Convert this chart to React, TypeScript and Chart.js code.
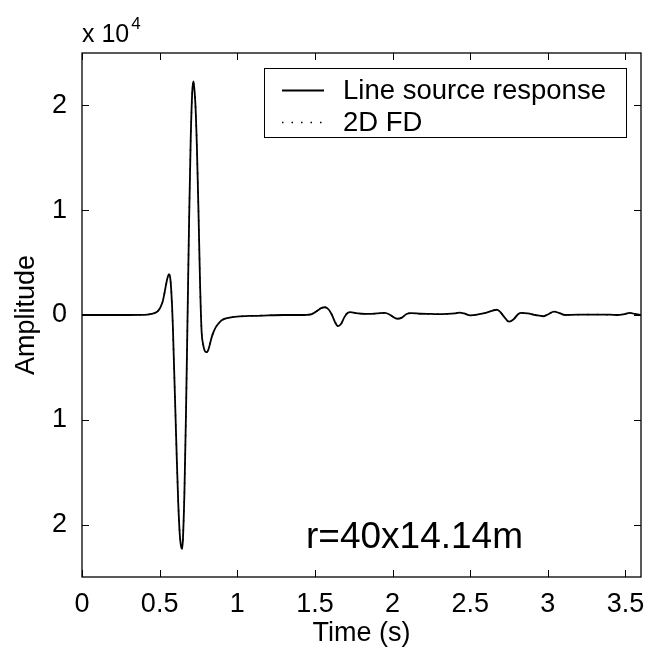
import React, { useEffect, useRef } from "react";
import { Chart, registerables } from "chart.js";

Chart.register(...registerables);

// ---- Data ----
const times = [
  0, 0.1, 0.2, 0.3, 0.38, 0.42, 0.45, 0.47, 0.49, 0.5, 0.51, 0.52, 0.53, 0.54, 0.55, 0.56, 0.565, 0.57, 0.575, 0.58,
  0.585, 0.59, 0.6, 0.61, 0.62, 0.63, 0.64, 0.645, 0.65, 0.66, 0.67, 0.68, 0.69, 0.7, 0.71, 0.717, 0.72, 0.73, 0.74,
  0.75, 0.76, 0.77, 0.78, 0.79, 0.8, 0.81, 0.82, 0.83, 0.84, 0.86, 0.88, 0.9, 0.95, 1.0, 1.1, 1.2, 1.3, 1.4,
  1.45, 1.48, 1.5, 1.52, 1.54, 1.565, 1.59, 1.61, 1.63, 1.65, 1.67, 1.69, 1.71, 1.73, 1.76, 1.8, 1.85, 1.9, 1.95,
  1.98, 2.0, 2.03, 2.06, 2.09, 2.12, 2.18, 2.25, 2.3, 2.35, 2.4, 2.43, 2.46, 2.5, 2.55, 2.6, 2.65, 2.67, 2.69, 2.72,
  2.75, 2.78, 2.81, 2.83, 2.87, 2.92, 2.97, 3.0, 3.04, 3.08, 3.11, 3.15, 3.2, 3.3, 3.4, 3.45, 3.48, 3.53, 3.56, 3.6,
];

const lineSourceAmp = [
  0, 0, 0, 0, 10, 40, 100, 200, 400, 600, 900, 1300, 2000, 2800, 3500, 3880, 3800, 3300, 2300, 900,
  -1000, -3500, -8500, -13500, -18000, -21000, -22200, -22300, -21400, -16700, -9200, 0, 9200, 16700, 21300, 22300, 22100, 20200, 16000,
  10000, 3200, -1500, -2800, -3400, -3550, -3450, -3000, -2400, -1900, -1200, -800, -500, -250, -150, -80, -40, 0, 0,
  20, 80, 250, 450, 650, 740, 500, 0, -700, -1070, -800, -200, 200, 270, 180, 120, 100, 150, 200,
  50, -150, -360, -250, 100, 180, 120, 100, 80, 100, 150, 220, 150, -30, 50, 200, 450, 500, 350, -200,
  -640, -400, 100, 200, 150, 0, -120, 50, 320, 150, 0, 20, 30, 40, 30, 0, 50, 200, 100, 0,
];

const fdAmp = [
  0, 0, 0, 0, 10, 40, 100, 200, 400, 600, 900, 1300, 2000, 2800, 3500, 3880, 3800, 3300, 2300, 900,
  -1000, -3500, -8500, -13500, -18000, -21000, -22200, -22300, -21400, -16700, -9200, 0, 9200, 16700, 21300, 22300, 22100, 20200, 16000,
  10000, 3200, -1500, -2800, -3400, -3550, -3450, -3000, -2400, -1900, -1200, -800, -500, -250, -150, -80, -40, 0, 0,
  20, 80, 250, 450, 650, 740, 500, 0, -700, -1070, -800, -200, 200, 270, 180, 120, 100, 150, 200,
  50, -150, -360, -250, 100, 180, 120, 100, 80, 100, 150, 220, 150, -30, 50, 200, 450, 500, 350, -200,
  -640, -400, 100, 200, 150, 0, -120, 50, 320, 150, 0, 20, 30, 40, 30, 0, 50, 200, 100, 0,
];

const xTicks = [0, 0.5, 1, 1.5, 2, 2.5, 3, 3.5];
const xTickLabels = ["0", "0.5", "1", "1.5", "2", "2.5", "3", "3.5"];
const yTicks = [-20000, -10000, 0, 10000, 20000];
const yTickLabels = ["2", "1", "0", "1", "2"];

const seriesLabels = ["Line source response", "2D FD"];
const annotationText = "r=40x14.14m";

const FONT = "'Liberation Sans', Arial, Helvetica, sans-serif";

const boxPlugin = {
  id: "matlabBox",
  afterDraw(chart: any) {
    const { ctx, chartArea: a, scales } = chart;
    const xs = scales.x;
    const ys = scales.y;
    ctx.save();
    ctx.strokeStyle = "#000";
    ctx.lineWidth = 1.3;
    ctx.strokeRect(a.left, a.top, a.right - a.left, a.bottom - a.top);
    const tl = 7;
    ctx.beginPath();
    xTicks.forEach((v) => {
      const px = Math.round(xs.getPixelForValue(v)) + 0.5;
      ctx.moveTo(px, a.bottom);
      ctx.lineTo(px, a.bottom - tl);
      ctx.moveTo(px, a.top);
      ctx.lineTo(px, a.top + tl);
    });
    yTicks.forEach((v) => {
      const py = Math.round(ys.getPixelForValue(v)) + 0.5;
      ctx.moveTo(a.left, py);
      ctx.lineTo(a.left + tl, py);
      ctx.moveTo(a.right, py);
      ctx.lineTo(a.right - tl, py);
    });
    ctx.lineWidth = 1;
    ctx.stroke();

    // exponent label
    ctx.fillStyle = "#000";
    ctx.textBaseline = "alphabetic";
    ctx.textAlign = "left";
    ctx.font = `25px ${FONT}`;
    ctx.fillText("x 10", a.left, 42);
    const w = ctx.measureText("x 10").width;
    ctx.font = `17px ${FONT}`;
    ctx.fillText("4", a.left + w + 2, 29);

    // annotation
    ctx.font = `37px ${FONT}`;
    ctx.textAlign = "right";
    ctx.fillText(annotationText, 523, 548);

    // legend
    const lx = 264.5, ly = 68.5, lw = 362, lh = 69;
    ctx.fillStyle = "#fff";
    ctx.fillRect(lx, ly, lw, lh);
    ctx.strokeStyle = "#000";
    ctx.lineWidth = 1;
    ctx.strokeRect(lx, ly, lw, lh);
    const rows = [90, 122];
    chart.data.datasets.forEach((ds: any, i: number) => {
      const y = rows[i];
      ctx.save();
      ctx.strokeStyle = ds.borderColor;
      ctx.lineWidth = ds.borderWidth;
      ctx.setLineDash(ds.borderDash || []);
      ctx.beginPath();
      ctx.moveTo(282, y + 0.5);
      ctx.lineTo(324, y + 0.5);
      ctx.stroke();
      ctx.restore();
      ctx.fillStyle = "#000";
      ctx.font = `27.5px ${FONT}`;
      ctx.textBaseline = "middle";
      ctx.textAlign = "left";
      ctx.fillText(ds.label, 343, y + 1);
    });
    ctx.restore();
  },
};

export default function App() {
  const ref = useRef<HTMLCanvasElement | null>(null);
  useEffect(() => {
    if (!ref.current) return;
    const chart = new Chart(ref.current, {
      type: "line",
      data: {
        datasets: [
          {
            label: seriesLabels[0],
            data: times.map((t, i) => ({ x: t, y: lineSourceAmp[i] })),
            borderColor: "#000",
            borderWidth: 1.8,
            pointRadius: 0,
            cubicInterpolationMode: "monotone",
            fill: false,
          },
          {
            label: seriesLabels[1],
            data: times.map((t, i) => ({ x: t, y: fdAmp[i] })),
            borderColor: "#000",
            borderWidth: 1.5,
            borderDash: [1.5, 8],
            pointRadius: 0,
            cubicInterpolationMode: "monotone",
            fill: false,
          },
        ],
      },
      options: {
        responsive: false,
        animation: false,
        devicePixelRatio: 1,
        layout: { padding: { top: 53, right: 4, left: 0, bottom: 0 } },
        plugins: { legend: { display: false }, tooltip: { enabled: false } },
        scales: {
          x: {
            type: "linear",
            min: 0,
            max: 3.6,
            grid: { display: false },
            border: { display: false },
            afterBuildTicks: (s: any) => {
              s.ticks = xTicks.map((v) => ({ value: v }));
            },
            afterFit: (s: any) => {
              s.height = 71;
              s.paddingLeft = 0;
              s.paddingRight = 0;
            },
            ticks: {
              color: "#000",
              font: { family: FONT, size: 27 },
              padding: 3,
              maxRotation: 0,
              autoSkip: false,
              callback: (v: any, i: number) => xTickLabels[i],
            },
            title: {
              display: true,
              text: "Time (s)",
              color: "#000",
              font: { family: FONT, size: 27 },
              padding: { top: 0, bottom: -2 },
            },
          },
          y: {
            type: "linear",
            min: -25000,
            max: 25000,
            grid: { display: false },
            border: { display: false },
            afterBuildTicks: (s: any) => {
              s.ticks = yTicks.map((v) => ({ value: v }));
            },
            afterFit: (s: any) => {
              s.width = 82;
              s.paddingTop = 0;
              s.paddingBottom = 0;
            },
            ticks: {
              color: "#000",
              font: { family: FONT, size: 27 },
              padding: 7,
              autoSkip: false,
              callback: (v: any, i: number) => yTickLabels[i],
            },
            title: {
              display: true,
              text: "Amplitude",
              color: "#000",
              font: { family: FONT, size: 27 },
              padding: { top: 10, bottom: 0 },
            },
          },
        },
      },
      plugins: [boxPlugin],
    } as any);
    return () => chart.destroy();
  }, []);
  return (
    <div style={{ position: "absolute", left: 0, top: 0, width: 645, height: 648, background: "#fff" }}>
      <canvas ref={ref} width={645} height={648} style={{ display: "block" }} />
    </div>
  );
}
